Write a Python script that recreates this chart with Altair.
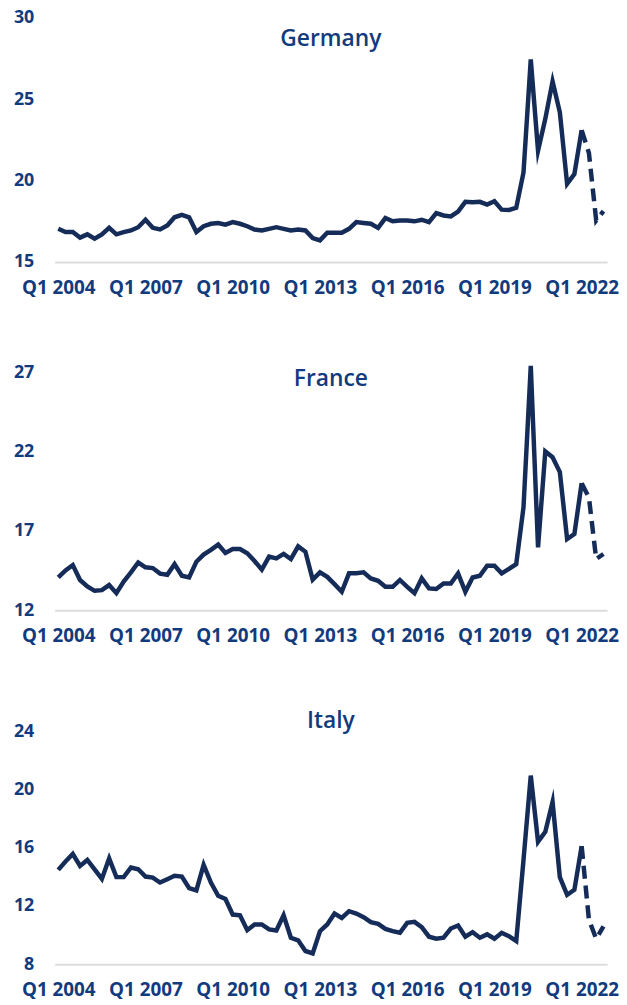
import altair as alt
import pandas as pd

quarters = [f"Q{q} {y}" for y in range(2004, 2023) for q in range(1, 5)]
tick_labels = ["Q1 2004", "Q1 2007", "Q1 2010", "Q1 2013", "Q1 2016", "Q1 2019", "Q1 2022"]
forecast_start = "Q1 2022"

germany = [17.04, 16.84, 16.84, 16.5, 16.7, 16.43, 16.7, 17.1, 16.7, 16.84, 16.94, 17.14,
           17.6, 17.1, 17.0, 17.24, 17.75, 17.9, 17.75, 16.84, 17.2, 17.35, 17.4, 17.3,
           17.45, 17.35, 17.2, 17.0, 16.94, 17.04, 17.14, 17.04, 16.94, 17.0, 16.94, 16.47,
           16.33, 16.8, 16.8, 16.8, 17.04, 17.45, 17.4, 17.35, 17.1, 17.7, 17.5, 17.55,
           17.55, 17.5, 17.6, 17.45, 18.0, 17.86, 17.8, 18.1, 18.7, 18.67, 18.7, 18.53,
           18.73, 18.22, 18.2, 18.33, 20.5, 27.45, 21.84, 23.8, 26.1, 24.2, 19.8, 20.4,
           23.1, 21.7, 17.55, 18.12]
france = [14.06, 14.5, 14.84, 13.9, 13.5, 13.22, 13.26, 13.58, 13.07, 13.8, 14.38, 15.0,
          14.7, 14.65, 14.3, 14.23, 14.9, 14.17, 14.06, 15.05, 15.5, 15.8, 16.13, 15.6,
          15.85, 15.85, 15.58, 15.1, 14.55, 15.37, 15.26, 15.54, 15.22, 16.02, 15.68, 13.92,
          14.38, 14.1, 13.64, 13.16, 14.32, 14.32, 14.38, 14.0, 13.85, 13.47, 13.47, 13.9,
          13.47, 13.07, 14.0, 13.37, 13.33, 13.68, 13.68, 14.32, 13.16, 14.06, 14.17, 14.8,
          14.8, 14.32, 14.6, 14.9, 18.48, 27.39, 15.96, 22.0, 21.64, 20.7, 16.48, 16.8,
          20.0, 19.1, 15.22, 15.54]
italy = [14.48, 15.05, 15.57, 14.75, 15.16, 14.52, 13.86, 15.27, 13.98, 13.98, 14.64, 14.52,
         14.02, 13.95, 13.61, 13.84, 14.07, 14.02, 13.23, 13.07, 14.82, 13.61, 12.7, 12.48,
         11.41, 11.36, 10.34, 10.73, 10.73, 10.39, 10.32, 11.36, 9.82, 9.64, 8.91, 8.75,
         10.27, 10.73, 11.48, 11.18, 11.64, 11.48, 11.23, 10.89, 10.77, 10.43, 10.27, 10.16,
         10.84, 10.91, 10.55, 9.89, 9.75, 9.82, 10.45, 10.66, 9.89, 10.2, 9.82, 10.05,
         9.75, 10.16, 9.93, 9.59, 15.16, 20.95, 16.41, 17.09, 19.14, 13.98, 12.77, 13.11,
         16.11, 11.05, 9.75, 10.6]

countries = ["Germany", "France", "Italy"]
y_domains = [[15, 30], [12, 27], [8, 24]]
y_ticks = [[15, 20, 25, 30], [12, 17, 22, 27], [8, 12, 16, 20, 24]]
series = [germany, france, italy]

TEXT = "#123b7e"
LINE = "#152b58"
FONT = "Open Sans"


def panel(name, values, domain, ticks, height, title_dy):
    fs = quarters.index(forecast_start)
    df = pd.DataFrame({"quarter": quarters, "value": values, "idx": list(range(len(quarters)))})
    base = alt.Chart(df).encode(
        x=alt.X(
            "quarter:O",
            sort=quarters,
            scale=alt.Scale(type="point", padding=0.5),
            axis=alt.Axis(
                values=tick_labels, title=None, labelAngle=0, ticks=False, tickSize=0,
                domainColor="#dcdcdc", domainWidth=2, labelPadding=17, labelFont=FONT,
                labelFontSize=19, labelFontWeight=700, labelColor=TEXT,
                labelOverlap=False, labelFlush=False, grid=False,
            ),
        ),
        y=alt.Y(
            "value:Q",
            scale=alt.Scale(domain=domain, nice=False, zero=False),
            axis=alt.Axis(
                values=ticks, title=None, domain=False, ticks=False, tickSize=0, grid=False,
                labelPadding=21, labelFont=FONT, labelFontSize=18, labelFontWeight=700,
                labelColor=TEXT,
            ),
        ),
    )
    actual = base.transform_filter(alt.datum.idx <= fs).mark_line(
        color=LINE, strokeWidth=4.5, strokeJoin="miter", strokeMiterLimit=10
    )
    forecast = base.transform_filter(alt.datum.idx >= fs).mark_line(
        color=LINE, strokeWidth=4.5, strokeDash=[13, 7]
    )
    return alt.layer(actual, forecast).properties(
        width=557,
        height=height,
        title=alt.TitleParams(
            name, font=FONT, fontSize=23, fontWeight=600, color=TEXT,
            anchor="middle", offset=0, dy=title_dy,
        ),
    )


heights = [246, 240, 235]
title_dys = [42, 48, 11]
charts = [panel(c, s, d, t, h, dy) for c, s, d, t, h, dy in
          zip(countries, series, y_domains, y_ticks, heights, title_dys)]

chart = alt.vconcat(
    alt.vconcat(charts[0], charts[1], spacing=46),
    charts[2],
    spacing=65,
).properties(
    padding={"left": 5, "top": -3, "right": 0, "bottom": 0}
).configure_view(stroke=None)

chart.save("out.html", embed_options={"renderer": "svg", "actions": False})
